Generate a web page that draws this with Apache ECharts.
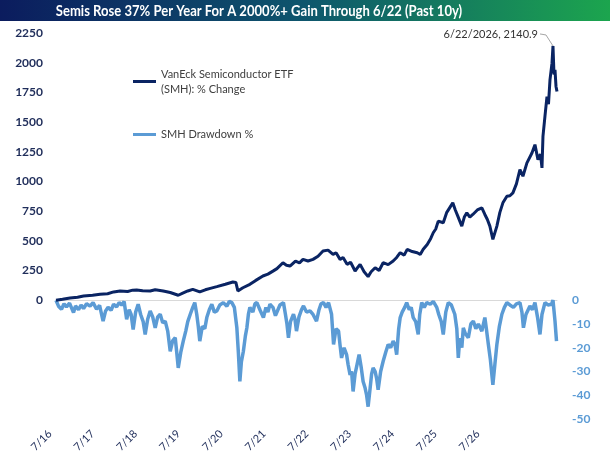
<!DOCTYPE html>
<html>
<head>
<meta charset="utf-8">
<script src="https://cdn.jsdelivr.net/npm/echarts@6/dist/echarts.min.js"></script>
<style>html,body{margin:0;padding:0;background:#fff}#c{width:610px;height:456px}</style>
</head>
<body>
<div id="c"></div>
<script>
// ---- data (x in decimal years) ----
var titleText = 'Semis Rose 37% Per Year For A 2000%+ Gain Through 6/22 (Past 10y)';
var seriesNames = ['VanEck Semiconductor ETF\n(SMH): % Change', 'SMH Drawdown %'];
var tickLabels = ['7/16','7/17','7/18','7/19','7/20','7/21','7/22','7/23','7/24','7/25','7/26'];
var peakDateLabel = '6/22/2026';

var changeX = [2016.47,2016.6,2016.75,2016.9,2017.02,2017.2,2017.35,2017.5,2017.62,2017.75,2017.9,2018.0,2018.08,2018.2,2018.35,2018.45,2018.61,2018.75,2018.91,2019.0,2019.1,2019.20,2019.34,2019.45,2019.55,2019.68,2019.85,2020.00,2020.06,2020.10,2020.2,2020.34,2020.45,2020.6,2020.7,2020.8,2020.88,2021.00,2021.07,2021.14,2021.25,2021.33,2021.40,2021.50,2021.60,2021.70,2021.80,2021.90,2022.00,2022.06,2022.14,2022.2,2022.28,2022.35,2022.44,2022.5,2022.54,2022.62,2022.70,2022.76,2022.84,2022.92,2023.00,2023.1,2023.20,2023.27,2023.34,2023.42,2023.48,2023.58,2023.68,2023.74,2023.80,2023.88,2023.95,2024.00,2024.05,2024.10,2024.20,2024.27,2024.33,2024.39,2024.44,2024.49,2024.57,2024.62,2024.67,2024.73,2024.79,2024.88,2024.97,2025.03,2025.08,2025.13,2025.19,2025.27,2025.33,2025.39,2025.47,2025.53,2025.59,2025.66,2025.73,2025.79,2025.87,2025.97,2026.03,2026.09,2026.14,2026.17,2026.19,2026.23,2026.27,2026.30,2026.33,2026.37,2026.39,2026.41,2026.43,2026.45,2026.47];
var changeV = [0,8,18,25,36,42,50,55,70,78,74,85,87,80,78,88,78,65,42,60,78,92,70,88,100,115,135,154,150,78,105,134,165,204,220,245,266,316,295,288,330,315,344,330,344,370,414,422,386,400,344,360,302,320,246,280,302,240,199,240,274,250,316,300,330,360,400,380,428,410,400,386,430,470,520,568,600,666,652,740,780,820,760,708,624,700,736,700,722,760,778,722,680,624,512,624,740,820,876,880,904,980,1100,1044,1156,1240,1310,1184,1230,1114,1380,1550,1715,1650,1855,1996,2140.9,1900,1940,1800,1757];

var ddX = [2016.47,2016.52,2016.58,2016.63,2016.68,2016.74,2016.82,2016.86,2016.92,2016.97,2017.02,2017.08,2017.15,2017.21,2017.28,2017.34,2017.41,2017.46,2017.51,2017.57,2017.62,2017.68,2017.73,2017.78,2017.83,2017.88,2017.93,2017.97,2018.01,2018.06,2018.11,2018.16,2018.21,2018.25,2018.30,2018.35,2018.40,2018.45,2018.50,2018.55,2018.60,2018.65,2018.70,2018.75,2018.80,2018.85,2018.88,2018.91,2018.96,2019.01,2019.06,2019.10,2019.15,2019.20,2019.24,2019.28,2019.31,2019.34,2019.39,2019.44,2019.48,2019.53,2019.58,2019.63,2019.68,2019.74,2019.81,2019.88,2019.93,2019.98,2020.03,2020.08,2020.11,2020.14,2020.17,2020.21,2020.25,2020.28,2020.31,2020.34,2020.40,2020.44,2020.48,2020.54,2020.61,2020.66,2020.70,2020.74,2020.80,2020.85,2020.88,2020.94,2021.01,2021.05,2021.08,2021.11,2021.15,2021.21,2021.24,2021.27,2021.32,2021.37,2021.41,2021.47,2021.54,2021.60,2021.67,2021.72,2021.76,2021.81,2021.86,2021.91,2021.97,2022.01,2022.06,2022.11,2022.14,2022.17,2022.22,2022.27,2022.30,2022.34,2022.37,2022.40,2022.44,2022.48,2022.52,2022.56,2022.60,2022.64,2022.67,2022.70,2022.74,2022.77,2022.80,2022.84,2022.87,2022.90,2022.95,2023.00,2023.05,2023.10,2023.15,2023.20,2023.24,2023.27,2023.31,2023.34,2023.38,2023.43,2023.47,2023.52,2023.56,2023.60,2023.65,2023.70,2023.73,2023.77,2023.82,2023.87,2023.94,2024.00,2024.07,2024.11,2024.16,2024.20,2024.25,2024.30,2024.36,2024.43,2024.47,2024.50,2024.53,2024.57,2024.60,2024.64,2024.70,2024.75,2024.80,2024.85,2024.90,2024.97,2025.03,2025.06,2025.10,2025.14,2025.19,2025.23,2025.27,2025.32,2025.37,2025.42,2025.47,2025.53,2025.60,2025.66,2025.73,2025.77,2025.80,2025.85,2025.93,2025.98,2026.03,2026.08,2026.13,2026.17,2026.23,2026.29,2026.36,2026.39,2026.43,2026.46];
var ddV = [0,-2.5,-3.8,-1.5,-2.8,-1.2,-5.2,-2.4,-4,-2,-3.5,-1.5,-2.5,-1,-3.8,-2.2,-8.8,-4.5,-3,-4.2,-1.7,-2.8,-1,-2,-0.5,-8,-4,-6,-12.3,-5,-1.7,-6,-9,-14.4,-8,-4.5,-7,-11.6,-7,-5.9,-9.5,-8.8,-13,-21.5,-17,-15.8,-22,-28.5,-22,-17.2,-13,-9,-5.9,-3,-1,-6,-11,-17.2,-11,-12,-7.3,-4,-1.7,-5,-4.5,-2,-1,-2.5,-0.5,-1,-3,-11.6,-22,-34.2,-26,-21.5,-15,-11.6,-6,-3,-5,-1.5,-1,-4,-7.3,-3,-5,-1.7,-3,-6.5,-5.9,-2,-1,-6,-10,-15.8,-9,-5.9,-8,-13,-7,-4,-2.4,-5,-4.5,-6,-8.8,-4,-1.5,-1,-3,-1,-5.9,-18.6,-12,-13,-19,-24.3,-20,-22.9,-27,-31.4,-30,-38.4,-31,-27,-22.9,-28,-34.2,-37,-40,-44.8,-37,-31,-28.5,-30,-33,-37.7,-30,-25.7,-22,-18.6,-20,-17.2,-19,-22.9,-12,-7.3,-5,-3,-1,-4,-3,-7.3,-9,-14.4,-6,-1,-3,-1,-1.7,-0.5,-3,-6,-9,-14.4,-5,-1,-2,-5.9,-12,-24.3,-16,-20,-11.6,-14,-15.8,-10,-8.8,-12,-10,-13,-7.3,-12,-18.6,-25,-35.6,-27,-18.6,-11,-5.9,-3,-1,-2,-3,-1.5,-1,-5,-11.6,-6,-2.4,-4,-1,-7,-14.4,-6,-1,-2,-1.7,0,-8.8,-17.2];

// ---- build ----
var FONT = 'Lato, "Liberation Sans", sans-serif';
var peakIdx = changeV.indexOf(Math.max.apply(null, changeV));
var changeData = changeX.map(function (x, i) { return [x, changeV[i]]; });
var ddData = ddX.map(function (x, i) { return [x, ddV[i]]; });

var chart = echarts.init(document.getElementById('c'), null, { renderer: 'canvas' });
chart.setOption({
  animation: false,
  backgroundColor: '#fff',
  legend: [{
    data: [seriesNames[0]], left: 128, top: 54, orient: 'vertical',
    icon: 'rect', itemWidth: 23, itemHeight: 3,
    textStyle: { fontSize: 11, color: '#404040', fontFamily: FONT, lineHeight: 15, padding: [15, 0, 0, 0] }
  }, {
    data: [seriesNames[1]], left: 128, top: 122, orient: 'vertical',
    icon: 'rect', itemWidth: 23, itemHeight: 3,
    textStyle: { fontSize: 11, color: '#404040', fontFamily: FONT, lineHeight: 15 }
  }],
  grid: [
    { left: 56, right: 53, top: 33, bottom: 37, containLabel: false },
    { left: 50, right: 132, top: 33, bottom: 37, containLabel: false }
  ],
  xAxis: [{
    type: 'value', gridIndex: 0, min: 2016.47, max: 2026.47,
    axisLine: { show: true, onZero: true, lineStyle: { color: '#d9d9d9', width: 1 } },
    axisTick: { show: false }, axisLabel: { show: false }, splitLine: { show: false }
  }, {
    type: 'category', gridIndex: 1, data: tickLabels, boundaryGap: false,
    axisLine: { show: false }, axisTick: { show: false }, splitLine: { show: false },
    axisLabel: { rotate: 45, margin: 13, interval: 0, fontSize: 11, color: '#1f2d5a', fontFamily: FONT }
  }],
  yAxis: [{
    type: 'value', gridIndex: 0, min: -1000, max: 2250, interval: 250, position: 'left',
    axisLine: { show: false }, axisTick: { show: false }, splitLine: { show: false },
    axisLabel: { margin: 13, fontSize: 12, fontWeight: 'bold', color: '#1f2d5a', fontFamily: FONT,
      formatter: function (v) { return v >= 0 ? String(v) : ''; } }
  }, {
    type: 'value', gridIndex: 0, min: -50, max: 112.5, interval: 10, position: 'right',
    axisLine: { show: false }, axisTick: { show: false }, splitLine: { show: false },
    axisLabel: { margin: 15, fontSize: 12, fontWeight: 'bold', color: '#5b9bd5', fontFamily: FONT,
      showMaxLabel: false,
      formatter: function (v) { return v <= 0 ? String(v) : ''; } }
  }, {
    type: 'value', gridIndex: 1, show: false
  }],
  series: [{
    name: seriesNames[0], type: 'line', xAxisIndex: 0, yAxisIndex: 0,
    data: changeData, showSymbol: false, symbol: 'none', z: 4,
    lineStyle: { color: '#0a2463', width: 3 }, itemStyle: { color: '#0a2463' }
  }, {
    name: seriesNames[1], type: 'line', xAxisIndex: 0, yAxisIndex: 1,
    data: ddData, showSymbol: false, symbol: 'none', z: 3,
    lineStyle: { color: '#5b9bd5', width: 3.5 }, itemStyle: { color: '#5b9bd5' }
  }]
});

// title banner + peak annotation, positioned through the chart's own scales
var peak = chart.convertToPixel({ xAxisIndex: 0, yAxisIndex: 0 }, changeData[peakIdx]);
chart.setOption({
  graphic: [{
    type: 'rect', left: 0, top: 0, z: -1, silent: true,
    shape: { width: 610, height: 21 },
    style: { fill: new echarts.graphic.LinearGradient(0, 0, 1, 0, [
      { offset: 0, color: '#0b1c5e' },
      { offset: 0.5, color: '#0e566d' },
      { offset: 1, color: '#1ca54e' }
    ]) }
  }, {
    type: 'text', silent: true, z: 10,
    x: 259, y: 11, scaleX: 0.9, scaleY: 1,
    style: { text: titleText, align: 'center', verticalAlign: 'middle',
      fill: '#fff', fontSize: 14.5, fontWeight: 'bold', fontFamily: FONT }
  }, {
    type: 'polyline', silent: true, z: 10,
    shape: { points: [[peak[0] - 13, peak[1] - 12], [peak[0] - 7, peak[1] - 11], [peak[0], peak[1]]] },
    style: { stroke: '#a6a6a6', lineWidth: 1, fill: null }
  }, {
    type: 'text', silent: true, z: 10,
    x: peak[0] - 15, y: peak[1] - 12,
    style: { text: peakDateLabel + ', ' + changeV[peakIdx], align: 'right', verticalAlign: 'middle',
      fill: '#333', fontSize: 11, fontFamily: FONT }
  }]
});
</script>
</body>
</html>
